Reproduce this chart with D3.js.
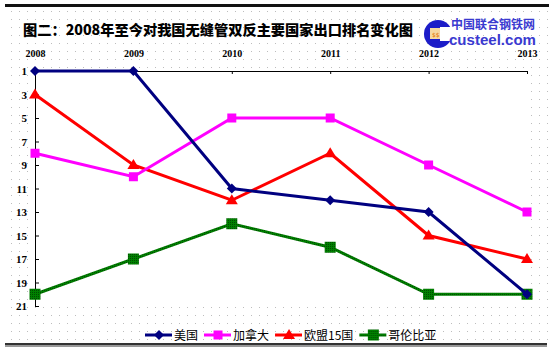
<!DOCTYPE html>
<html>
<head>
<meta charset="utf-8">
<script src="https://cdn.jsdelivr.net/npm/d3@7"></script>
<style>
  html, body { margin: 0; padding: 0; background: #fff; }
  svg { display: block; }
</style>
</head>
<body>
<div id="chart"></div>
<script>
// data (rank, 1 = top)
const years = ['2008', '2009', '2010', '2011', '2012', '2013'];
const usa = [1, 1, 11, 12, 13, 20];
const canada = [8, 10, 5, 5, 9, 13];
const eu15 = [3, 9, 12, 8, 15, 17];
const colombia = [20, 17, 14, 16, 20, 20];
const yTicks = [1, 3, 5, 7, 9, 11, 13, 15, 17, 19, 21];

const series = [
    { name: '美国', values: usa, color: '#000080', marker: 'diamond' },
    { name: '加拿大', values: canada, color: '#ff00ff', marker: 'square' },
    { name: '欧盟15国', values: eu15, color: '#ff0000', marker: 'triangle' },
    { name: '哥伦比亚', values: colombia, color: '#008000', marker: 'square' }
];

const width = 553, height = 353;
const plot = { left: 35, right: 527, top: 71, bottom: 306 };

const svg = d3.select('#chart').append('svg')
    .attr('width', width)
    .attr('height', height);

// dotted background
const defs = svg.append('defs');
const pat = defs.append('pattern')
    .attr('id', 'dots')
    .attr('width', 8).attr('height', 8)
    .attr('patternUnits', 'userSpaceOnUse');
pat.append('rect').attr('x', 3).attr('y', 3).attr('width', 1).attr('height', 1).attr('fill', '#bdbdbd');
const hatch = defs.append('pattern')
    .attr('id', 'hatch')
    .attr('width', 2).attr('height', 2)
    .attr('patternUnits', 'userSpaceOnUse');
hatch.append('rect').attr('width', 2).attr('height', 2).attr('fill', '#008000');
hatch.append('rect').attr('width', 1).attr('height', 1).attr('fill', '#004d00');

svg.append('rect').attr('width', width).attr('height', height).attr('fill', '#fff');
svg.append('rect').attr('x', 5).attr('y', 7).attr('width', 543).attr('height', 336).attr('fill', 'url(#dots)');

// frame lines
svg.append('rect').attr('x', 5).attr('y', 4).attr('width', 544).attr('height', 3).attr('fill', '#111');
svg.append('rect').attr('x', 5).attr('y', 343).attr('width', 542).attr('height', 2).attr('fill', '#333');
svg.append('rect').attr('x', 5).attr('y', 345).attr('width', 542).attr('height', 2).attr('fill', '#999');

// title
svg.append('text')
    .attr('x', 23).attr('y', 35)
    .attr('font-family', '"Noto Sans CJK SC", sans-serif')
    .attr('font-weight', 900)
    .attr('font-size', 14)
    .attr('textLength', 390)
    .attr('lengthAdjust', 'spacingAndGlyphs')
    .attr('fill', '#000')
    .text('图二：2008年至今对我国无缝管双反主要国家出口排名变化图');

// logo
const logo = svg.append('g');
logo.append('circle').attr('cx', 438).attr('cy', 34).attr('r', 14).attr('fill', '#1c1cc8');
logo.append('rect').attr('x', 440).attr('y', 27).attr('width', 14).attr('height', 14).attr('fill', '#fff');
logo.append('rect').attr('x', 430).attr('y', 28).attr('width', 10).attr('height', 11).attr('fill', '#f6d8a0');
logo.append('text').attr('x', 432).attr('y', 37)
    .attr('font-size', 6).attr('fill', '#e07000').attr('font-family', 'DejaVu Sans').text('$$');
logo.append('text')
    .attr('x', 451).attr('y', 29)
    .attr('font-family', '"Noto Sans CJK SC", sans-serif')
    .attr('font-weight', 700).attr('font-size', 12)
    .attr('textLength', 84).attr('lengthAdjust', 'spacingAndGlyphs')
    .attr('fill', '#3a3ad0')
    .text('中国联合钢铁网');
logo.append('text')
    .attr('x', 449).attr('y', 45)
    .attr('font-family', '"Liberation Sans", Arial, sans-serif')
    .attr('font-weight', 700).attr('font-size', 15)
    .attr('textLength', 87).attr('lengthAdjust', 'spacingAndGlyphs')
    .attr('fill', '#3a3ad0')
    .text('custeel.com');

// scales
const x = d3.scalePoint().domain(years).range([plot.left, plot.right]);
const y = d3.scaleLinear().domain([1, 21]).range([plot.top, plot.bottom]);

// plot area
svg.append('rect')
    .attr('x', plot.left).attr('y', plot.top)
    .attr('width', plot.right - plot.left).attr('height', plot.bottom - plot.top)
    .attr('fill', '#fff');

// top axis (years)
const xAxis = svg.append('g')
    .attr('transform', `translate(0,${plot.top})`)
    .call(d3.axisTop(x).tickSize(-3).tickPadding(14));
xAxis.select('.domain').attr('stroke', '#000').attr('d', `M${plot.left},0.5H${plot.right}`);
xAxis.selectAll('.tick line').attr('stroke', '#000');
xAxis.selectAll('text')
    .attr('font-family', '"Liberation Serif", serif')
    .attr('font-weight', 700)
    .attr('font-size', 10)
    .attr('fill', '#000');

// left axis (ranks)
const yAxis = svg.append('g')
    .attr('transform', `translate(${plot.left},0)`)
    .call(d3.axisLeft(y).tickValues(yTicks).tickSize(-4).tickPadding(8));
yAxis.select('.domain').attr('stroke', '#000').attr('d', `M0.5,${plot.top}V${plot.bottom}`);
yAxis.selectAll('.tick line').attr('stroke', '#000');
yAxis.selectAll('text')
    .attr('font-family', '"Liberation Serif", serif')
    .attr('font-weight', 700)
    .attr('font-size', 11)
    .attr('fill', '#000');

// markers
function drawMarker(g, type, cx, cy, color, big) {
    if (type === 'diamond') {
        g.append('path')
            .attr('d', `M${cx},${cy - 5}L${cx + 5},${cy}L${cx},${cy + 5}L${cx - 5},${cy}Z`)
            .attr('fill', color);
    } else if (type === 'triangle') {
        g.append('path')
            .attr('d', `M${cx},${cy - 6}L${cx + 6},${cy + 4}L${cx - 6},${cy + 4}Z`)
            .attr('fill', color);
    } else {
        const s = big ? 11 : 9;
        g.append('rect')
            .attr('x', cx - s / 2).attr('y', cy - s / 2)
            .attr('width', s).attr('height', s)
            .attr('fill', color === '#008000' ? 'url(#hatch)' : color);
    }
}

const line = d3.line()
    .x((d, i) => x(years[i]))
    .y(d => y(d));

// draw lines in order: green, red, magenta, navy on top
const drawOrder = [3, 2, 1, 0];
drawOrder.forEach(k => {
    const s = series[k];
    const g = svg.append('g');
    g.append('path')
        .attr('d', line(s.values))
        .attr('fill', 'none')
        .attr('stroke', s.color === '#008000' ? 'url(#hatch)' : s.color)
        .attr('stroke-width', 3);
    s.values.forEach((v, i) => {
        drawMarker(g, s.marker, x(years[i]), y(v), s.color, s.color === '#008000');
    });
});

// legend
const legend = svg.append('g').attr('transform', 'translate(145,335)');
let lx = 0;
series.forEach(s => {
    const g = legend.append('g').attr('transform', `translate(${lx},0)`);
    g.append('line')
        .attr('x1', 0).attr('x2', 27).attr('y1', 0).attr('y2', 0)
        .attr('stroke', s.color === '#008000' ? 'url(#hatch)' : s.color)
        .attr('stroke-width', 3);
    drawMarker(g, s.marker, 14, 0, s.color, s.color === '#008000');
    const t = g.append('text')
        .attr('x', 29).attr('y', 5)
        .attr('font-family', '"Noto Sans CJK SC", sans-serif')
        .attr('font-size', 12)
        .attr('fill', '#000')
        .text(s.name);
    lx += 29 + t.node().getComputedTextLength() + 6;
});
</script>
</body>
</html>
